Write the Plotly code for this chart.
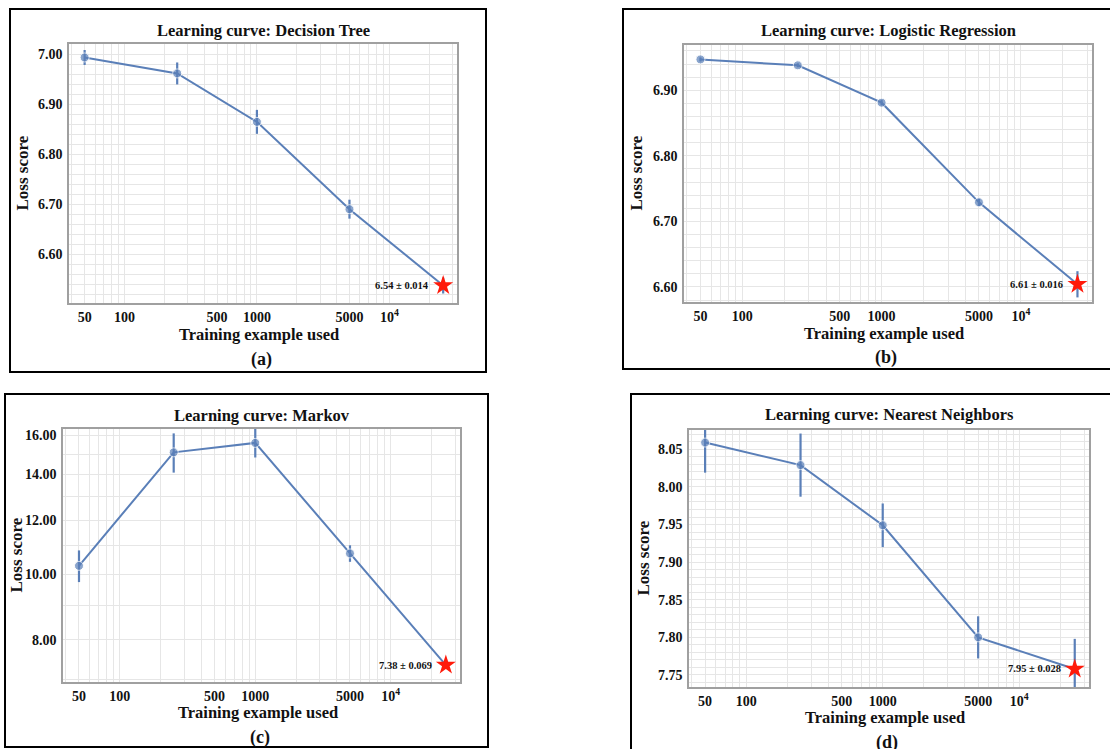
import math
import plotly.graph_objects as go

W, H = 1110, 749

# ---------------- data ----------------
train_sizes = [50, 250, 1000, 5000]
final_size = 25500

titles = ["Learning curve: Decision Tree", "Learning curve: Logistic Regression",
          "Learning curve: Markov", "Learning curve: Nearest Neighbors"]
captions = ["(a)", "(b)", "(c)", "(d)"]

dt_loss = [6.994, 6.962, 6.865, 6.690]
dt_err = [0.015, 0.022, 0.024, 0.019]
dt_final, dt_final_err, dt_label = 6.537, 0.016, "6.54 ± 0.014"

lr_loss = [6.947, 6.938, 6.881, 6.729]
lr_err = [0.003, 0.003, 0.004, 0.006]
lr_final, lr_final_err, lr_label = 6.604, 0.020, "6.61 ± 0.016"

mk_loss = [10.28, 15.09, 15.58, 10.72]
mk_err = [0.55, 1.0, 0.75, 0.3]
mk_final, mk_final_err, mk_label = 7.35, 0.07, "7.38 ± 0.069"

nn_loss = [8.059, 8.029, 7.949, 7.800]
nn_err = [0.040, 0.042, 0.029, 0.028]
nn_final, nn_final_err, nn_label = 7.758, 0.040, "7.95 ± 0.028"

x_tick_vals = [50, 100, 500, 1000, 5000, 10000]
x_tick_text = ["50", "100", "500", "1000", "5000", "10<sup>4</sup>"]

dt_y_ticks = [6.6, 6.7, 6.8, 6.9, 7.0]
lr_y_ticks = [6.6, 6.7, 6.8, 6.9]
mk_y_ticks = [8, 10, 12, 14, 16]
nn_y_ticks = [7.75, 7.80, 7.85, 7.90, 7.95, 8.00, 8.05]

# ---------------- layout geometry (pixels) ----------------
panels = [
    dict(loss=dt_loss, err=dt_err, final=dt_final, ferr=dt_final_err, label=dt_label,
         yticks=dt_y_ticks, yrange=[6.502, 7.021], ylog=False, ystep=0.02,
         plot=(69, 457, 44, 303), frame=(10, 486, 9, 372),
         title_y=30, xt_y=334, cap_y=359, ylab_x=22),
    dict(loss=lr_loss, err=lr_err, final=lr_final, ferr=lr_final_err, label=lr_label,
         yticks=lr_y_ticks, yrange=[6.577, 6.969], ylog=False, ystep=0.02,
         plot=(684, 1092, 45, 302), frame=(623, 1120, 9, 369),
         title_y=30, xt_y=333, cap_y=358, ylab_x=636),
    dict(loss=mk_loss, err=mk_err, final=mk_final, ferr=mk_final_err, label=mk_label,
         yticks=mk_y_ticks, yrange=[6.94, 16.33], ylog=True, ystep=1,
         plot=(63, 460, 429, 682), frame=(5, 488, 394, 747),
         title_y=415, xt_y=712, cap_y=737, ylab_x=16),
    dict(loss=nn_loss, err=nn_err, final=nn_final, ferr=nn_final_err, label=nn_label,
         yticks=nn_y_ticks, yrange=[7.734, 8.0757], ylog=False, ystep=0.01,
         plot=(689, 1089, 430, 687), frame=(631, 1120, 394, 760),
         title_y=414, xt_y=717, cap_y=742, ylab_x=643),
]

BLUE = "#5A7FB8"
RED = "#FF1A0A"
GRID = "#e6e6e6"
FONT = "Liberation Serif"


def px(x):
    return x / W


def py(y):
    return 1 - y / H


# vertical grid positions: every digit of each decade
x_grid = []
for dec in [10, 100, 1000, 10000]:
    for d in range(1, 10):
        v = d * dec
        if 35 <= v <= 33000:
            x_grid.append(v)
x_vals_all = sorted(set(x_grid + x_tick_vals))
x_text_all = [x_tick_text[x_tick_vals.index(v)] if v in x_tick_vals else "" for v in x_vals_all]

fig = go.Figure()
annotations = []
shapes = []
xr = [math.log10(50) - 0.118, math.log10(50) + 2.812]

for i, p in enumerate(panels):
    n = "" if i == 0 else str(i + 1)
    xa, ya = "x" + n, "y" + n
    l, r, t, b = p["plot"]

    xs = train_sizes + [final_size]
    ys = p["loss"] + [p["final"]]
    es = p["err"] + [p["ferr"]]
    fig.add_trace(go.Scatter(
        x=xs, y=ys, mode="lines+markers", xaxis=xa, yaxis=ya,
        line=dict(color=BLUE, width=2),
        marker=dict(color=BLUE, size=[9, 9, 9, 9, 0]),
        error_y=dict(type="data", array=es, color=BLUE, thickness=2.2, width=0),
        showlegend=False, hoverinfo="x+y"))
    fig.add_trace(go.Scatter(
        x=[final_size], y=[p["final"]], mode="markers", xaxis=xa, yaxis=ya,
        marker=dict(symbol="star", color=RED, size=15, line=dict(width=0)),
        showlegend=False))

    # y grid values
    y0, y1 = p["yrange"]
    yg = []
    step = p["ystep"]
    k = math.ceil(y0 / step - 1e-9)
    while k * step <= y1 + 1e-9:
        yg.append(round(k * step, 4))
        k += 1
    ylabels = {round(v, 4): "%.2f" % v for v in p["yticks"]}
    yvals = sorted(set(yg) | set(ylabels.keys()))
    ytext = [ylabels.get(v, "") for v in yvals]

    axis_common = dict(showline=True, mirror=True, linecolor="#a0a0a0", linewidth=1.5,
                       showgrid=True, gridcolor=GRID, gridwidth=1, zeroline=False,
                       ticks="", tickfont=dict(family=FONT, size=14, color="#111", weight="bold"))
    fig.update_layout(**{
        ("xaxis" + n): dict(axis_common, type="log", range=xr, domain=[px(l), px(r)],
                            anchor=ya, tickmode="array", tickvals=x_vals_all, ticktext=x_text_all,
                            ticklabelstandoff=0),
        ("yaxis" + n): dict(axis_common, type="log" if p["ylog"] else "linear",
                            range=[math.log10(y0), math.log10(y1)] if p["ylog"] else [y0, y1],
                            domain=[py(b), py(t)], anchor=xa, tickmode="array",
                            tickvals=yvals, ticktext=ytext, ticklabelstandoff=2),
    })

    cx = (l + r) / 2
    annotations += [
        dict(text=titles[i], x=px(cx), y=py(p["title_y"]), xref="paper", yref="paper",
             showarrow=False, xanchor="center", yanchor="middle",
             font=dict(family=FONT, size=16.5, color="#111", weight="bold")),
        dict(text="Training example used", x=px(cx - 4), y=py(p["xt_y"]), xref="paper", yref="paper",
             showarrow=False, xanchor="center", yanchor="middle",
             font=dict(family=FONT, size=16.5, color="#111", weight="bold")),
        dict(text=captions[i], x=px(cx - 2), y=py(p["cap_y"]), xref="paper", yref="paper",
             showarrow=False, xanchor="center", yanchor="middle",
             font=dict(family=FONT, size=18, color="#111", weight="bold")),
        dict(text="Loss score", x=px(p["ylab_x"]), y=py((t + b) / 2), xref="paper", yref="paper",
             showarrow=False, xanchor="center", yanchor="middle", textangle=-90,
             font=dict(family=FONT, size=17, color="#111", weight="bold")),
        dict(text=p["label"], x=math.log10(final_size),
             y=math.log10(p["final"]) if p["ylog"] else p["final"],
             xref=xa, yref=ya, showarrow=False, xanchor="right", yanchor="middle", xshift=-12,
             font=dict(family=FONT, size=10.5, color="#111", weight="bold")),
    ]
    fl, fr, ft, fb = p["frame"]
    shapes.append(dict(type="rect", xref="paper", yref="paper", x0=px(fl), x1=px(fr),
                       y0=py(fb), y1=py(ft), line=dict(color="black", width=2),
                       fillcolor="rgba(0,0,0,0)", layer="above"))

fig.update_layout(
    width=W, height=H, margin=dict(l=0, r=0, t=0, b=0),
    paper_bgcolor="white", plot_bgcolor="white",
    annotations=annotations, shapes=shapes, showlegend=False,
)

fig.write_html("out.html", config={"displayModeBar": False},
               post_script="document.body.style.margin='0';document.body.style.overflow='hidden';")
